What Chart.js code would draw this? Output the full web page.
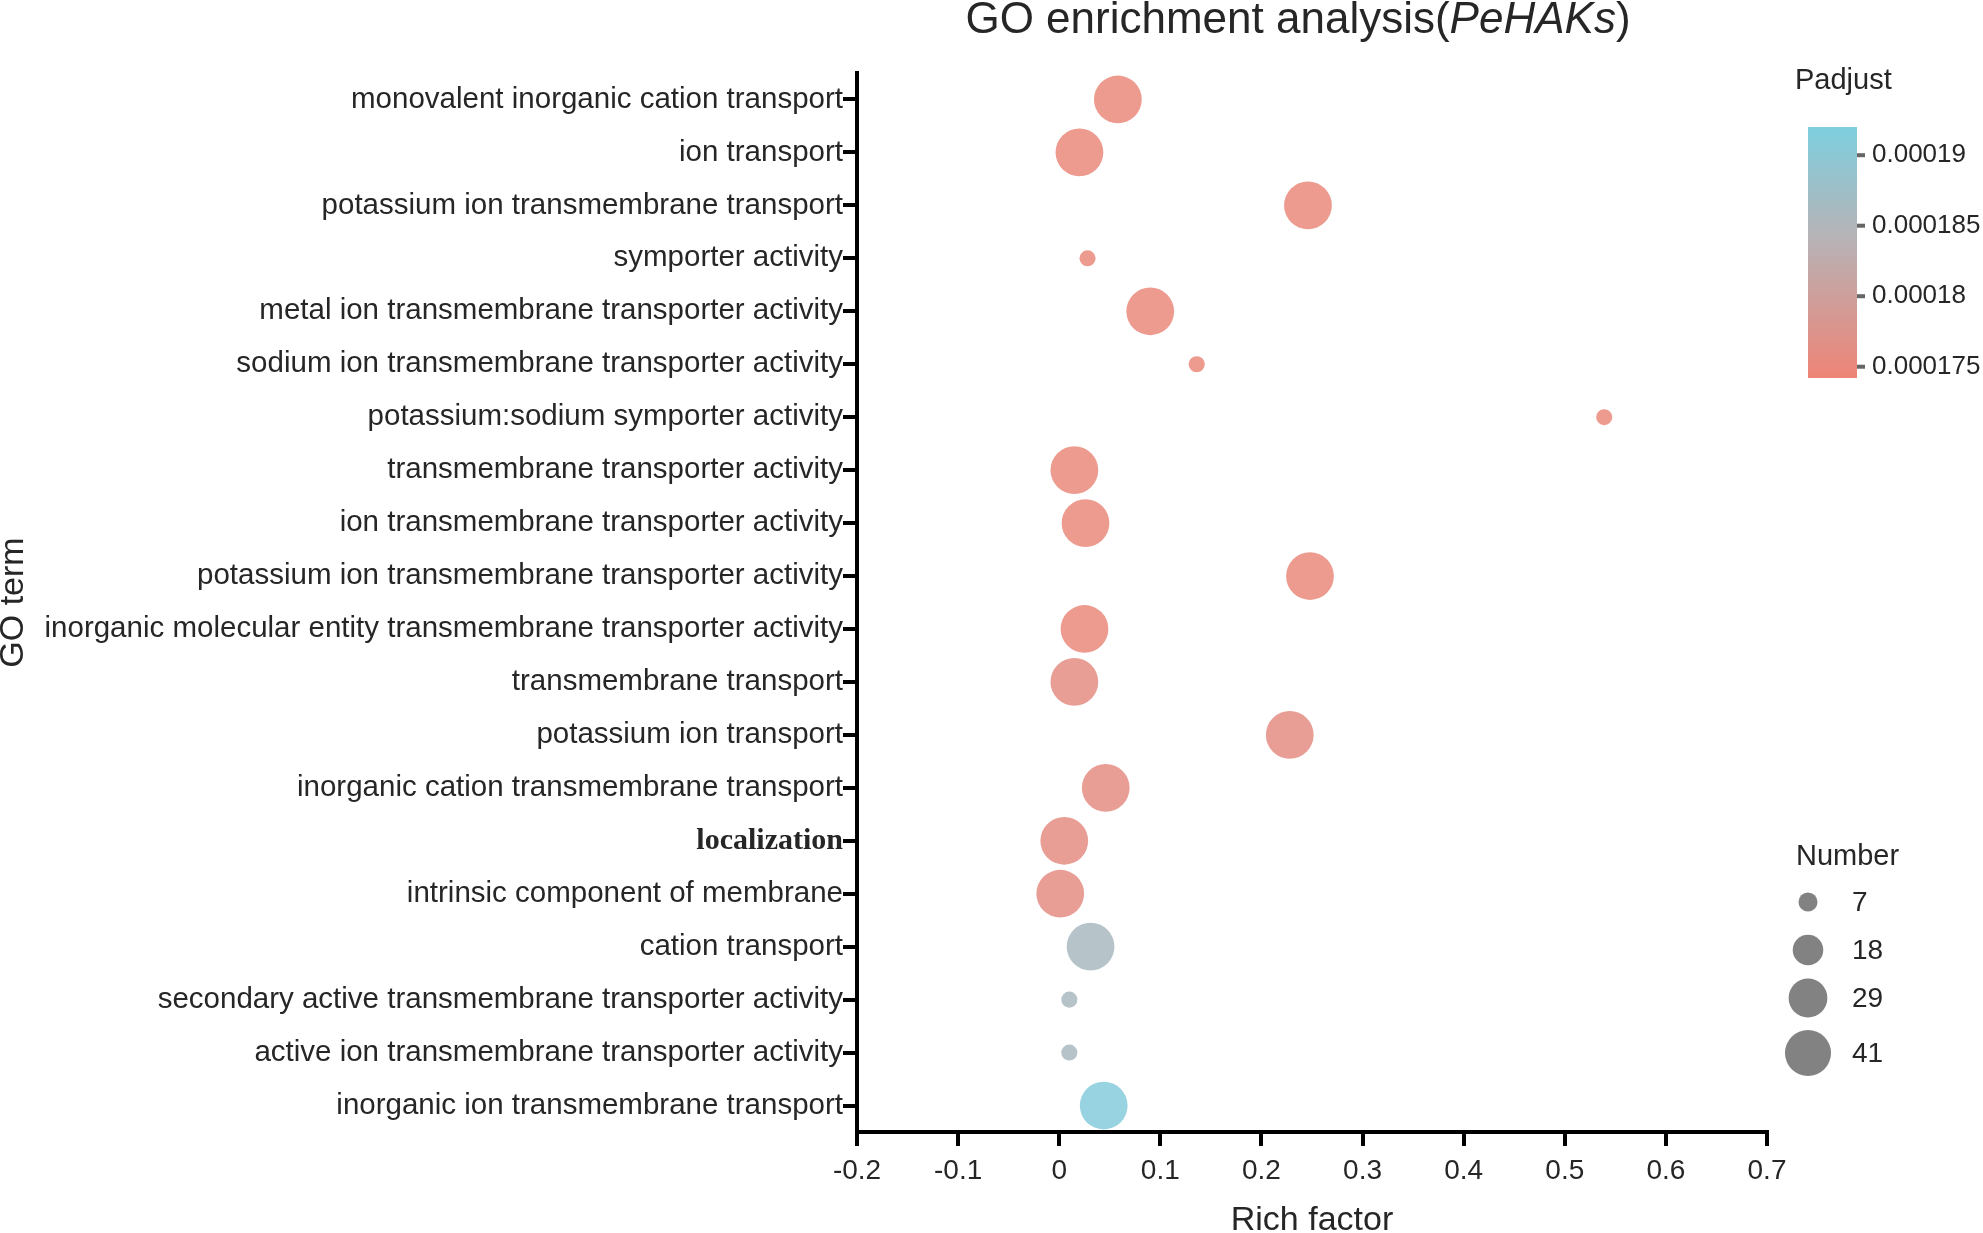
<!DOCTYPE html>
<html>
<head>
<meta charset="utf-8">
<script src="https://cdn.jsdelivr.net/npm/chart.js@4.4.0/dist/chart.umd.min.js"></script>
<style>
  html, body { margin: 0; padding: 0; background: #fff; }
  canvas { display: block; }
</style>
</head>
<body>
<canvas id="chart" width="1983" height="1233"></canvas>
<script>
// GO terms, top to bottom
const terms = [
  'monovalent inorganic cation transport',
  'ion transport',
  'potassium ion transmembrane transport',
  'symporter activity',
  'metal ion transmembrane transporter activity',
  'sodium ion transmembrane transporter activity',
  'potassium:sodium symporter activity',
  'transmembrane transporter activity',
  'ion transmembrane transporter activity',
  'potassium ion transmembrane transporter activity',
  'inorganic molecular entity transmembrane transporter activity',
  'transmembrane transport',
  'potassium ion transport',
  'inorganic cation transmembrane transport',
  'localization',
  'intrinsic component of membrane',
  'cation transport',
  'secondary active transmembrane transporter activity',
  'active ion transmembrane transporter activity',
  'inorganic ion transmembrane transport'
];
const richFactor = [0.058, 0.020, 0.246, 0.028, 0.090, 0.136, 0.539, 0.015, 0.026, 0.248,
                    0.025, 0.015, 0.228, 0.046, 0.005, 0.001, 0.031, 0.010, 0.010, 0.044];
const geneNumber = [44, 44, 44, 5, 44, 5, 5, 44, 44, 44,
                    44, 44, 44, 44, 44, 44, 44, 5, 5, 44];
const padjust = [0.000175, 0.000175, 0.000175, 0.000175, 0.000175, 0.000175, 0.000175, 0.000175, 0.000175, 0.000175,
                 0.000175, 0.000176, 0.000176, 0.000176, 0.000176, 0.000176, 0.000186, 0.000186, 0.000186, 0.000191];

const padjTicks = [0.000175, 0.00018, 0.000185, 0.00019];
const numberTicks = [7, 18, 29, 41];

const padjMin = 0.0001742, padjMax = 0.000192;
const sans = "'Liberation Sans', Arial, sans-serif";
const textColor = '#262626';

function radius(n) { return 3.6 * Math.sqrt(n); }

// colour ramp: salmon -> grey -> light blue
const ramp = [[0, [238, 132, 118]], [0.55, [183, 178, 181]], [1, [126, 207, 223]]];
function frac(v) { return Math.min(1, Math.max(0, (v - padjMin) / (padjMax - padjMin))); }
function rampColor(v, alpha) {
  const t = frac(v);
  let a = ramp[0], b = ramp[1];
  if (t > ramp[1][0]) { a = ramp[1]; b = ramp[2]; }
  const k = (t - a[0]) / (b[0] - a[0]);
  const c = a[1].map((x, i) => Math.round(x + (b[1][i] - x) * k));
  return `rgba(${c[0]},${c[1]},${c[2]},${alpha})`;
}

const decorations = {
  id: 'decorations',
  afterDraw(chart) {
    const ctx = chart.ctx;
    ctx.save();
    ctx.fillStyle = textColor;
    ctx.textBaseline = 'alphabetic';

    // title with italic gene family name
    const parts = [['GO enrichment analysis(', ''], ['PeHAKs', 'italic '], [')', '']];
    let total = 0;
    parts.forEach(p => { ctx.font = p[1] + '44px ' + sans; total += ctx.measureText(p[0]).width; });
    let tx = 1298 - total / 2;
    parts.forEach(p => {
      ctx.font = p[1] + '44px ' + sans;
      ctx.textAlign = 'left';
      ctx.fillText(p[0], tx, 33);
      tx += ctx.measureText(p[0]).width;
    });

    // colour bar
    const barX = 1808, barW = 49, barTop = 127, barBottom = 378;
    const grad = ctx.createLinearGradient(0, barBottom, 0, barTop);
    ramp.forEach(s => grad.addColorStop(s[0], `rgb(${s[1].join(',')})`));
    ctx.fillStyle = grad;
    ctx.fillRect(barX, barTop, barW, barBottom - barTop);

    ctx.font = '29px ' + sans;
    ctx.fillStyle = textColor;
    ctx.textAlign = 'left';
    ctx.fillText('Padjust', 1795, 89);

    ctx.font = '26px ' + sans;
    ctx.textBaseline = 'middle';
    padjTicks.forEach(v => {
      const y = barBottom - frac(v) * (barBottom - barTop);
      ctx.fillStyle = '#666';
      ctx.fillRect(barX + barW, y - 2, 8, 4);
      ctx.fillStyle = textColor;
      ctx.fillText(String(v), 1872, y);
    });

    // size legend
    ctx.textBaseline = 'alphabetic';
    ctx.font = '29px ' + sans;
    ctx.fillText('Number', 1796, 865);
    ctx.font = '28px ' + sans;
    const ys = [902, 950, 998, 1053];
    ctx.textBaseline = 'middle';
    numberTicks.forEach((n, i) => {
      ctx.fillStyle = '#828282';
      ctx.beginPath();
      ctx.arc(1808, ys[i], radius(n), 0, Math.PI * 2);
      ctx.fill();
      ctx.fillStyle = textColor;
      ctx.fillText(String(n), 1852, ys[i] + 1);
    });
    ctx.restore();
  }
};

new Chart(document.getElementById('chart').getContext('2d'), {
  type: 'bubble',
  data: {
    datasets: [{
      data: terms.map((t, i) => ({ x: richFactor[i], y: t, r: radius(geneNumber[i]) })),
      backgroundColor: padjust.map(v => rampColor(v, 0.85)),
      borderWidth: 0
    }]
  },
  options: {
    responsive: false,
    animation: false,
    devicePixelRatio: 1,
    layout: { padding: { top: 73, right: 216, left: 0, bottom: 0 } },
    plugins: {
      legend: { display: false },
      tooltip: { enabled: false },
      title: { display: false }
    },
    scales: {
      x: {
        type: 'linear',
        min: -0.2,
        max: 0.7,
        ticks: {
          stepSize: 0.1,
          padding: 8,
          color: textColor,
          font: { family: sans, size: 28 },
          callback: v => String(Math.round(v * 10) / 10)
        },
        grid: { drawOnChartArea: false, drawTicks: true, tickLength: 14, lineWidth: 4, color: '#000' },
        border: { display: true, color: '#000', width: 4 },
        title: { display: true, text: 'Rich factor', color: textColor, padding: 0,
                 font: { family: sans, size: 34, lineHeight: 0.72 } },
        afterFit: s => { s.height = 101; }
      },
      y: {
        type: 'category',
        labels: terms,
        offset: true,
        ticks: {
          autoSkip: false,
          padding: 0,
          color: textColor,
          font: c => (c.tick && c.tick.label === 'localization')
            ? { family: "'Liberation Serif', 'Times New Roman', serif", size: 30, weight: 'bold' }
            : { family: sans, size: 29.5 }
        },
        grid: { drawOnChartArea: false, drawTicks: true, tickLength: 14, lineWidth: 4, color: '#000' },
        border: { display: true, color: '#000', width: 4 },
        title: { display: true, text: 'GO term', color: textColor, padding: 0,
                 font: { family: sans, size: 34, lineHeight: 0.8 } },
        afterFit: s => { s.width = 857; }
      }
    }
  },
  plugins: [decorations]
});
</script>
</body>
</html>
